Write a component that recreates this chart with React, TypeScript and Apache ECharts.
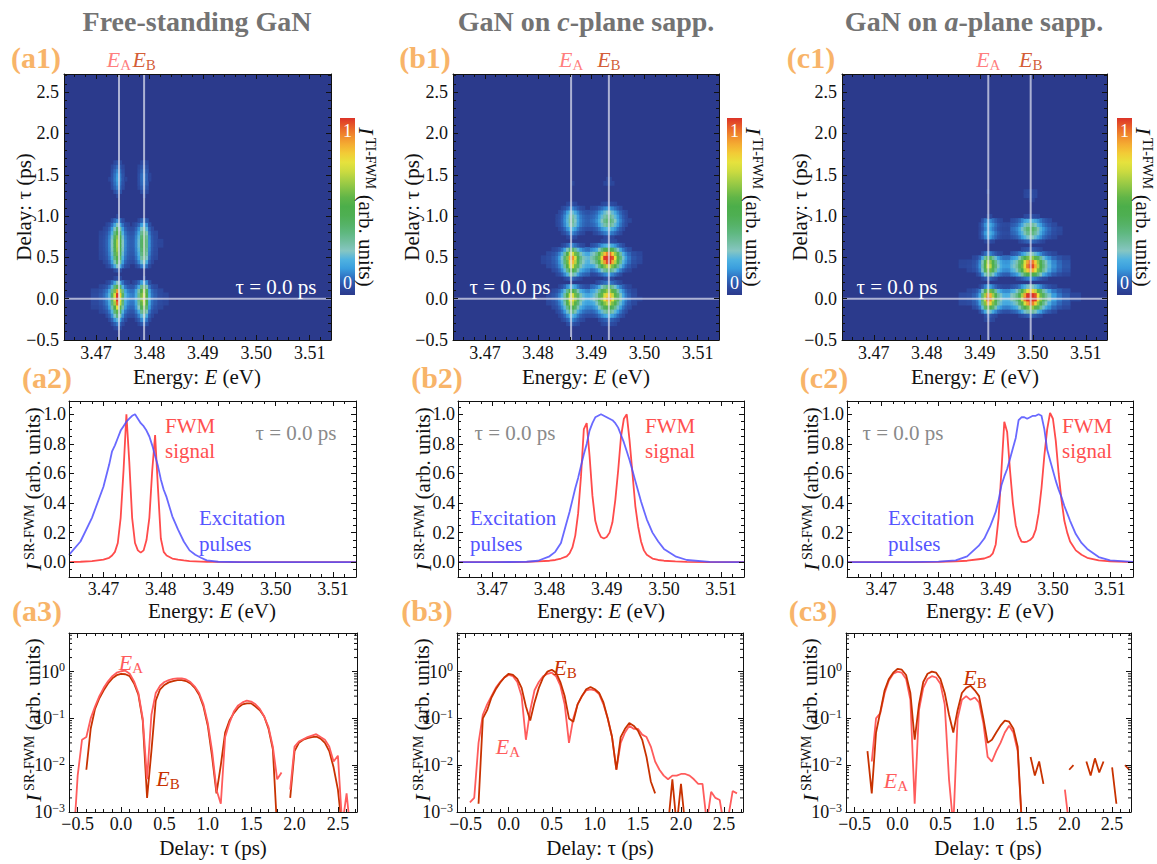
import React, { useEffect, useRef } from "react";
import * as echarts from "echarts";

const FONT = "Liberation Serif, Times New Roman, serif";

// ---------------- axis ranges ----------------
const E_MIN = 3.464;
const E_MAX = 3.514;
const MAP_TAU_MIN = -0.5;
const MAP_TAU_MAX = 2.72;
const SPEC_MIN = -0.1;
const SPEC_MAX = 1.09;
const DELAY_MIN = -0.6;
const DELAY_MAX = 2.72;
const LOG_MIN = 0.001;
const LOG_MAX = 6.7;

// ---------------- texts ----------------
const COLUMN_TITLES = [
  "{b|Free-standing GaN}",
  "{b|GaN on }{bi|c}{b|-plane sapp.}",
  "{b|GaN on }{bi|a}{b|-plane sapp.}",
];
const PANEL_LABELS = [
  ["(a1)", "(b1)", "(c1)"],
  ["(a2)", "(b2)", "(c2)"],
  ["(a3)", "(b3)", "(c3)"],
];
const TAU_NOTE = "τ = 0.0 ps";

// exciton resonance energies (eV) – guide lines of the maps
const EXCITON_A = [3.4743, 3.4862, 3.4916];
const EXCITON_B = [3.479, 3.4933, 3.4996];

// ---------------- spectra at tau = 0 (row 2) ----------------
const ENERGY_A = [3.464, 3.466, 3.468, 3.47, 3.471, 3.4715, 3.472, 3.4725, 3.473, 3.4735, 3.474, 3.4745, 3.475, 3.4755, 3.476, 3.4765, 3.477, 3.4775, 3.478, 3.4785, 3.479, 3.4795, 3.48, 3.4805, 3.481, 3.482, 3.483, 3.484, 3.485, 3.486, 3.487, 3.488, 3.49, 3.494, 3.5, 3.514];
const FWM_A = [0, 0.003, 0.008, 0.018, 0.03, 0.045, 0.07, 0.13, 0.3, 0.62, 1.0, 0.68, 0.3, 0.13, 0.08, 0.065, 0.08, 0.15, 0.3, 0.62, 0.86, 0.5, 0.16, 0.07, 0.045, 0.025, 0.017, 0.012, 0.008, 0.006, 0.004, 0.003, 0.002, 0.001, 0, 0];
const PULSE_A = [0.05, 0.14, 0.3, 0.51, 0.66, 0.75, 0.79, 0.84, 0.89, 0.92, 0.95, 0.97, 0.99, 1.0, 0.97, 0.94, 0.92, 0.89, 0.85, 0.79, 0.72, 0.65, 0.56, 0.49, 0.44, 0.31, 0.22, 0.14, 0.08, 0.05, 0.03, 0.012, 0.003, 0, 0, 0];

const ENERGY_B = [3.464, 3.47, 3.476, 3.478, 3.48, 3.481, 3.482, 3.483, 3.4835, 3.484, 3.4845, 3.485, 3.4855, 3.486, 3.4865, 3.487, 3.4875, 3.488, 3.4885, 3.489, 3.4895, 3.49, 3.4905, 3.491, 3.4915, 3.492, 3.4925, 3.493, 3.4935, 3.494, 3.4945, 3.495, 3.4955, 3.496, 3.4965, 3.497, 3.498, 3.499, 3.5, 3.502, 3.504, 3.508, 3.514];
const FWM_B = [0, 0, 0.002, 0.005, 0.01, 0.015, 0.025, 0.04, 0.06, 0.1, 0.18, 0.33, 0.58, 0.9, 0.94, 0.72, 0.45, 0.28, 0.21, 0.17, 0.16, 0.17, 0.2, 0.27, 0.42, 0.62, 0.85, 0.97, 1.0, 0.82, 0.6, 0.38, 0.24, 0.14, 0.08, 0.05, 0.025, 0.015, 0.01, 0.005, 0.002, 0, 0];
const PULSE_B = [0, 0, 0.003, 0.01, 0.04, 0.07, 0.13, 0.27, 0.34, 0.42, 0.5, 0.57, 0.65, 0.73, 0.8, 0.89, 0.94, 0.98, 0.99, 1.0, 0.99, 0.98, 0.97, 0.96, 0.94, 0.91, 0.86, 0.81, 0.75, 0.69, 0.62, 0.55, 0.48, 0.41, 0.35, 0.29, 0.2, 0.14, 0.09, 0.04, 0.015, 0.002, 0];

const ENERGY_C = [3.464, 3.475, 3.48, 3.483, 3.485, 3.487, 3.488, 3.489, 3.4895, 3.49, 3.4905, 3.491, 3.4915, 3.492, 3.4925, 3.493, 3.4935, 3.494, 3.4945, 3.495, 3.4955, 3.496, 3.4965, 3.497, 3.4975, 3.498, 3.4985, 3.499, 3.4995, 3.5, 3.5005, 3.501, 3.5015, 3.502, 3.5025, 3.503, 3.504, 3.505, 3.506, 3.508, 3.51, 3.514];
const FWM_C = [0, 0, 0.002, 0.005, 0.01, 0.02, 0.025, 0.04, 0.06, 0.12, 0.3, 0.62, 0.95, 0.88, 0.62, 0.4, 0.25, 0.18, 0.14, 0.135, 0.14, 0.15, 0.17, 0.22, 0.33, 0.5, 0.72, 0.9, 1.01, 0.97, 0.82, 0.6, 0.42, 0.28, 0.2, 0.14, 0.08, 0.05, 0.03, 0.012, 0.005, 0.001];
const PULSE_C = [0, 0.001, 0.004, 0.012, 0.04, 0.11, 0.16, 0.24, 0.29, 0.34, 0.42, 0.52, 0.58, 0.63, 0.7, 0.77, 0.84, 0.96, 0.98, 0.98, 0.97, 0.98, 0.99, 0.99, 1.0, 0.99, 0.9, 0.76, 0.69, 0.62, 0.55, 0.49, 0.44, 0.38, 0.33, 0.28, 0.19, 0.13, 0.09, 0.035, 0.012, 0.002];

// ---------------- delay traces (row 3) ----------------
const DELAYS = [
  -0.6, -0.55, -0.5, -0.45, -0.4, -0.35, -0.3, -0.25, -0.2, -0.15,
  -0.1, -0.05, 0, 0.05, 0.1, 0.15, 0.2, 0.25, 0.3, 0.35,
  0.4, 0.45, 0.5, 0.55, 0.6, 0.65, 0.7, 0.75, 0.8, 0.85,
  0.9, 0.95, 1.0, 1.05, 1.1, 1.15, 1.2, 1.25, 1.3, 1.35,
  1.4, 1.45, 1.5, 1.55, 1.6, 1.65, 1.7, 1.75, 1.8, 1.85,
  1.9, 1.95, 2.0, 2.05, 2.1, 2.15, 2.2, 2.25, 2.3, 2.35,
  2.4, 2.45, 2.5, 2.55, 2.6, 2.65, 2.7,
];
const DECAY_A_EA = [
  null, 0.0002, 0.006, 0.035, 0.04, 0.1, 0.18, 0.3, 0.45, 0.62,
  0.8, 0.95, 1.02, 1.05, 0.9, 0.62, 0.35, 0.1, 0.005, 0.12,
  0.35, 0.5, 0.6, 0.66, 0.7, 0.72, 0.72, 0.68, 0.6, 0.48,
  0.35, 0.2, 0.08, 0.02, 0.003, 0.0015, 0.04, 0.08, 0.14, 0.19,
  0.22, 0.24, 0.23, 0.2, 0.16, 0.11, 0.065, 0.025, 0.005, 0.007,
  null, 0.003, 0.025, 0.032, 0.036, 0.04, 0.043, 0.046, 0.04, 0.035,
  0.025, 0.012, 0.016, 0.0005, 0.0025, 0.0003, null,
];
const DECAY_A_EB = [
  null, null, null, null, 0.008, 0.06, 0.16, 0.27, 0.4, 0.56,
  0.72, 0.84, 0.9, 0.88, 0.8, 0.56, 0.32, 0.09, 0.002, 0.02,
  0.24, 0.42, 0.52, 0.59, 0.63, 0.66, 0.66, 0.63, 0.56, 0.45,
  0.32, 0.18, 0.07, 0.015, 0.0025, 0.01, 0.05, 0.09, 0.13, 0.17,
  0.2, 0.21, 0.21, 0.18, 0.15, 0.11, 0.06, 0.022, 0.0004, null,
  null, 0.002, 0.02, 0.03, 0.035, 0.038, 0.04, 0.041, 0.037, 0.03,
  0.02, 0.009, 0.003, 0.0004, null, null, null,
];
const DECAY_B_EA = [
  null, null, null, 0.0016, 0.002, 0.03, 0.12, 0.2, 0.3, 0.45,
  0.6, 0.75, 0.85, 0.8, 0.6, 0.3, 0.035, 0.15, 0.4, 0.6,
  0.8, 0.9, 0.95, 0.8, 0.5, 0.2, 0.03, 0.1, 0.2, 0.3,
  0.4, 0.42, 0.4, 0.33, 0.2, 0.1, 0.04, 0.008, 0.03, 0.05,
  0.07, 0.06, 0.06, 0.045, 0.04, 0.025, 0.012, 0.008, 0.006, 0.005,
  0.006, 0.006, 0.0065, 0.0065, 0.006, 0.005, 0.004, 0.004, 0.0006, 0.0027,
  0.002, 0.0018, 0.0005, 0.0008, 0.0028, 0.0025, null,
];
const DECAY_B_EB = [
  null, null, null, null, null, 0.0015, 0.1, 0.15, 0.28, 0.42,
  0.58, 0.75, 0.9, 0.85, 0.7, 0.45, 0.18, 0.09, 0.22, 0.45,
  0.75, 1.0, 1.1, 0.95, 0.6, 0.3, 0.1, 0.085, 0.2, 0.3,
  0.42, 0.47, 0.42, 0.35, 0.22, 0.1, 0.04, 0.008, 0.04, 0.06,
  0.08, 0.07, 0.055, 0.035, 0.015, 0.0045, 0.0025, null, null, 0.0005,
  0.005, 0.0005, 0.004, 0.0005, null, null, null, null, null, null,
  null, null, null, null, null, null, null,
];
const DECAY_C_EA = [
  null, null, null, null, null, null, 0.012, 0.1, 0.13, 0.35,
  0.65, 0.9, 1.0, 0.95, 0.7, 0.25, 0.0015, 0.15, 0.45, 0.7,
  0.8, 0.75, 0.55, 0.2, 0.005, 0.0005, 0.1, 0.25, 0.3, 0.25,
  0.28, 0.22, 0.08, 0.015, 0.012, 0.02, 0.03, 0.05, 0.07, 0.05,
  0.02, 0.0005, null, null, null, null, null, null, null, null,
  null, 0.003, 0.0005, null, null, null, null, null, null, null,
  null, null, null, null, null, null, null,
];
const DECAY_C_EB = [
  null, null, null, null, null, 0.02, 0.0025, 0.05, 0.14, 0.4,
  0.7, 0.95, 1.15, 1.1, 0.85, 0.35, 0.035, 0.2, 0.6, 0.9,
  1.0, 0.95, 0.7, 0.35, 0.12, 0.05, 0.15, 0.35, 0.45, 0.5,
  0.4, 0.3, 0.1, 0.03, 0.035, 0.05, 0.07, 0.09, 0.085, 0.06,
  0.025, 0.0005, null, 0.015, 0.006, 0.012, 0.004, null, null, null,
  null, null, 0.008, 0.01, null, null, 0.012, 0.006, 0.014, 0.007,
  0.012, null, 0.009, 0.0015, null, 0.01, 0.008,
];

// contrast of the time-integrated map relative to the spectrally resolved cuts
const MAP_DELAY_GAMMA = 1.3;
const MAP_SPECTRAL_GAMMA = 0.8;
const MAP_FLOOR = 0.03;

// minor tick positions of the logarithmic axes
const LOG_MINOR_TICKS = [
  0.002, 0.003, 0.004, 0.005, 0.006, 0.007, 0.008, 0.009,
  0.02, 0.03, 0.04, 0.05, 0.06, 0.07, 0.08, 0.09,
  0.2, 0.3, 0.4, 0.5, 0.6, 0.7, 0.8, 0.9,
  2, 3, 4, 5, 6,
];

// ---------------- colours ----------------
const HEAT_COLORS = [
  "#2b3a8c", "#2d4ea4", "#3072c2", "#3a9ede", "#4fb2e0", "#86c6c2", "#72bea0",
  "#5fb880", "#55b266", "#4eaf52", "#4cae4a", "#60b548", "#84c246", "#a8cf44",
  "#cddb40", "#e6e23d", "#f2cc36", "#f4ad32", "#f08a2d", "#e86029", "#dc3328",
];
const HEAT_BG = "#2b3a8c";
const GUIDE = "rgba(228,230,242,0.7)";
const RED_A = "#ff5c5c";
const RED_B = "#c83200";
const FWM_RED = "#ff4b4b";
const PULSE_BLUE = "#4f4fff";
const ORANGE = "#f8b469";
const GREY_TITLE = "#737373";
const GREY_NOTE = "#8a8a8a";
const INK = "#111";

// ---------------- layout ----------------
const ROWS = [
  { top: 74, height: 266, left: [64, 453, 842], width: [267, 266, 265] },
  { top: 401, height: 176, left: [69, 458, 847], width: [287, 286, 286] },
  { top: 633, height: 179, left: [69, 457, 846], width: [288, 286, 285] },
];

const PANELS = [
  { energy: ENERGY_A, fwm: FWM_A, pulse: PULSE_A, ea: EXCITON_A[0], eb: EXCITON_B[0], decayA: DECAY_A_EA, decayB: DECAY_A_EB },
  { energy: ENERGY_B, fwm: FWM_B, pulse: PULSE_B, ea: EXCITON_A[1], eb: EXCITON_B[1], decayA: DECAY_B_EA, decayB: DECAY_B_EB },
  { energy: ENERGY_C, fwm: FWM_C, pulse: PULSE_C, ea: EXCITON_A[2], eb: EXCITON_B[2], decayA: DECAY_C_EA, decayB: DECAY_C_EB },
];

const TICK_SIZE = 18;

const oneDec = (v: number) => (Math.abs(v) < 1e-9 ? "0.0" : (v < 0 ? "−" : "") + Math.abs(v).toFixed(1));
const twoDec = (v: number) => v.toFixed(2);
const pow10 = (v: number) => {
  const e = Math.round(Math.log10(v));
  return "{b|10}{s|" + (e < 0 ? "−" + -e : String(e)) + "}";
};

const zr = (size: number, fill: string, extra: any = {}) => ({ fontFamily: FONT, fontSize: size, fill, lineHeight: Math.round(size * 1.2), ...extra });
const ec = (size: number, color: string, extra: any = {}) => ({ fontFamily: FONT, fontSize: size, color, lineHeight: Math.round(size * 1.2), ...extra });

// the map is built from the tau = 0 spectrum and the delay traces of each resonance
function mapCells(p: any) {
  const n = p.energy.length;
  const mid = (p.ea + p.eb) / 2;
  const half = (DELAYS[1] - DELAYS[0]) / 2;
  const out: any[] = [];
  for (let i = 0; i < n; i++) {
    const e = p.energy[i];
    const left = i === 0 ? E_MIN : (p.energy[i - 1] + e) / 2;
    const right = i === n - 1 ? E_MAX : (e + p.energy[i + 1]) / 2;
    const trace = e < mid ? p.decayA : p.decayB;
    const spec = Math.pow(p.fwm[i], MAP_SPECTRAL_GAMMA);
    for (let j = 0; j < DELAYS.length; j++) {
      const t = DELAYS[j];
      if (t - half < MAP_TAU_MIN - 1e-9) continue;
      const d = trace[j];
      if (d == null) continue;
      const v = Math.min(1, spec * Math.pow(d, MAP_DELAY_GAMMA));
      if (v < MAP_FLOOR) continue;
      out.push([e, t, v, left, right]);
    }
  }
  return out;
}

function mkAxis(dir: string, gi: number, spec: any, main: boolean) {
  const a: any = {
    type: spec.type || "value",
    gridIndex: gi,
    position: dir === "x" ? (main ? "bottom" : "top") : main ? "left" : "right",
    min: spec.min,
    max: spec.max,
    splitNumber: 5,
    z: 10,
    axisLine: { show: true, onZero: false, lineStyle: { color: INK, width: 1 } },
    axisTick: { show: true, inside: true, length: 5, lineStyle: { color: INK, width: 1 } },
    minorTick: { show: spec.minor > 0, splitNumber: spec.minor || 5, length: 3, lineStyle: { color: INK, width: 1 } },
    splitLine: { show: false },
    minorSplitLine: { show: false },
    axisLabel: main
      ? {
          show: true,
          margin: spec.margin,
          fontFamily: FONT,
          fontSize: TICK_SIZE,
          color: INK,
          formatter: spec.fmt,
          rich: spec.rich,
          showMinLabel: spec.showMin,
          showMaxLabel: false,
        }
      : { show: false },
  };
  if (spec.type === "log") a.logBase = 10;
  return a;
}

const POW_RICH = {
  b: ec(TICK_SIZE, INK, { lineHeight: 21 }),
  s: ec(12, INK, { lineHeight: 11, verticalAlign: "top" }),
};

const AXIS_SPECS = [
  {
    x: { min: E_MIN, max: E_MAX, minor: 5, fmt: twoDec, showMin: false, margin: 4 },
    y: { min: MAP_TAU_MIN, max: MAP_TAU_MAX, minor: 5, fmt: oneDec, showMin: true, margin: 5 },
  },
  {
    x: { min: E_MIN, max: E_MAX, minor: 5, fmt: twoDec, showMin: false, margin: 3 },
    y: { min: SPEC_MIN, max: SPEC_MAX, minor: 4, fmt: oneDec, showMin: false, margin: 3 },
  },
  {
    x: { min: DELAY_MIN, max: DELAY_MAX, minor: 5, fmt: oneDec, showMin: false, margin: 3 },
    y: { type: "log", min: LOG_MIN, max: LOG_MAX, minor: 0, fmt: pow10, rich: POW_RICH, showMin: true, margin: 4 },
  },
];

function gText(x: number, y: number, text: string, rich: any, o: any = {}) {
  return {
    type: "text",
    x,
    y,
    rotation: o.rot || 0,
    silent: true,
    z: 100,
    style: {
      text,
      rich,
      fill: o.fill || INK,
      fontFamily: FONT,
      fontSize: o.size || 21,
      fontWeight: o.weight || "normal",
      lineHeight: o.lh,
      align: o.align || "center",
      verticalAlign: "middle",
      textAlign: o.align || "center",
      textVerticalAlign: "middle",
    },
  };
}

const eRich = (fill: string) => ({
  e: zr(22, fill, { fontStyle: "italic", lineHeight: 26 }),
  s: zr(15, fill, { lineHeight: 15, verticalAlign: "bottom" }),
});
const eRichEc = (color: string) => ({
  e: ec(22, color, { fontStyle: "italic", lineHeight: 26 }),
  s: ec(15, color, { lineHeight: 15, verticalAlign: "bottom" }),
});
const INTENSITY_RICH = {
  i: zr(22, INK, { fontStyle: "italic", lineHeight: 22 }),
  u: zr(14, INK, { lineHeight: 12, verticalAlign: "top" }),
  n: zr(21, INK, { lineHeight: 22 }),
};
const ENERGY_RICH = { n: zr(21, INK, { lineHeight: 24 }), i: zr(21, INK, { fontStyle: "italic", lineHeight: 24 }) };
const PLAIN_RICH = { n: zr(21, INK, { lineHeight: 22 }) };

function buildOption() {
  const grid: any[] = [];
  const xAxis: any[] = [];
  const yAxis: any[] = [];
  const series: any[] = [];

  ROWS.forEach((row, r) => {
    for (let c = 0; c < 3; c++) {
      const gi = r * 3 + c;
      grid.push({
        left: row.left[c],
        top: row.top,
        width: row.width[c],
        height: row.height,
        show: r === 0,
        backgroundColor: r === 0 ? HEAT_BG : "transparent",
        borderWidth: 0,
        borderColor: "transparent",
        containLabel: false,
        outerBoundsMode: "none",
      });
      const spec = AXIS_SPECS[r];
      xAxis.push(mkAxis("x", gi, spec.x, true));
      xAxis.push(mkAxis("x", gi, spec.x, false));
      yAxis.push(mkAxis("y", gi, spec.y, true));
      yAxis.push(mkAxis("y", gi, spec.y, false));
    }
  });

  const half = (DELAYS[1] - DELAYS[0]) / 2;

  // ---- row 1: maps (series 0..2) ----
  PANELS.forEach((p, c) => {
    const gi = c;
    series.push({
      type: "custom",
      xAxisIndex: 2 * gi,
      yAxisIndex: 2 * gi,
      z: 2,
      silent: true,
      clip: true,
      dimensions: ["E", "tau", "I", "E0", "E1"],
      encode: { x: 0, y: 1 },
      data: mapCells(p),
      renderItem: (params: any, api: any) => {
        const t = api.value(1);
        const a = api.coord([api.value(3), t + half]);
        const b = api.coord([api.value(4), t - half]);
        return {
          type: "rect",
          shape: { x: a[0], y: a[1], width: b[0] - a[0] + 0.6, height: b[1] - a[1] + 0.6 },
          style: { fill: api.visual("color") },
        };
      },
    });
  });
  PANELS.forEach((p, c) => {
    const gi = c;
    const base = { type: "line", xAxisIndex: 2 * gi, yAxisIndex: 2 * gi, symbol: "none", silent: true, z: 4, lineStyle: { color: GUIDE, width: 2 } };
    series.push({ ...base, data: [[p.ea, MAP_TAU_MIN], [p.ea, MAP_TAU_MAX]] });
    series.push({ ...base, data: [[p.eb, MAP_TAU_MIN], [p.eb, MAP_TAU_MAX]] });
    series.push({ ...base, data: [[E_MIN, 0], [E_MAX, 0]] });
    series.push({
      type: "scatter",
      xAxisIndex: 2 * gi,
      yAxisIndex: 2 * gi,
      silent: true,
      clip: false,
      symbolSize: 1,
      itemStyle: { color: "rgba(0,0,0,0)" },
      z: 5,
      data: [
        { value: [p.ea, MAP_TAU_MAX], label: { formatter: "{e|E}{s|A}", rich: eRichEc(RED_A) } },
        { value: [p.eb, MAP_TAU_MAX], label: { formatter: "{e|E}{s|B}", rich: eRichEc(RED_B) } },
      ],
      label: { show: true, position: "top", distance: 1 },
    });
  });

  // ---- row 2: spectra ----
  PANELS.forEach((p, c) => {
    const gi = 3 + c;
    series.push({
      type: "line",
      xAxisIndex: 2 * gi,
      yAxisIndex: 2 * gi,
      symbol: "none",
      silent: true,
      z: 3,
      lineStyle: { color: FWM_RED, width: 1.8 },
      data: p.energy.map((e: number, i: number) => [e, p.fwm[i]]),
    });
    series.push({
      type: "line",
      xAxisIndex: 2 * gi,
      yAxisIndex: 2 * gi,
      symbol: "none",
      silent: true,
      z: 4,
      lineStyle: { color: PULSE_BLUE, width: 1.8, opacity: 0.85 },
      data: p.energy.map((e: number, i: number) => [e, p.pulse[i]]),
    });
  });

  // ---- row 3: delay traces ----
  PANELS.forEach((p, c) => {
    const gi = 6 + c;
    const traceData = (arr: any[]) => DELAYS.map((t, i) => [t, arr[i] == null ? "-" : arr[i]]);
    series.push({
      type: "line",
      xAxisIndex: 2 * gi,
      yAxisIndex: 2 * gi,
      symbol: "none",
      silent: true,
      z: c === 0 ? 4 : 3,
      lineStyle: { color: RED_A, width: 1.8 },
      data: traceData(p.decayA),
    });
    series.push({
      type: "line",
      xAxisIndex: 2 * gi,
      yAxisIndex: 2 * gi,
      symbol: "none",
      silent: true,
      z: c === 0 ? 3 : 4,
      lineStyle: { color: RED_B, width: 1.8 },
      data: traceData(p.decayB),
    });
    series.push({
      type: "custom",
      xAxisIndex: 2 * gi,
      yAxisIndex: 2 * gi,
      silent: true,
      clip: false,
      z: 11,
      encode: { x: 0, y: 1 },
      data: LOG_MINOR_TICKS.filter((v) => v < LOG_MAX).map((v) => [DELAY_MIN, v]),
      renderItem: (params: any, api: any) => {
        const v = api.value(1);
        const l = api.coord([DELAY_MIN, v]);
        const r = api.coord([DELAY_MAX, v]);
        return {
          type: "group",
          children: [
            { type: "line", shape: { x1: l[0], y1: l[1], x2: l[0] + 3, y2: l[1] }, style: { stroke: INK, lineWidth: 1 } },
            { type: "line", shape: { x1: r[0] - 3, y1: r[1], x2: r[0], y2: r[1] }, style: { stroke: INK, lineWidth: 1 } },
          ],
        };
      },
    });
  });

  // ---- graphic texts ----
  const g: any[] = [];
  const titleRich = {
    b: zr(28, GREY_TITLE, { fontWeight: "bold", lineHeight: 32 }),
    bi: zr(28, GREY_TITLE, { fontWeight: "bold", fontStyle: "italic", lineHeight: 32 }),
  };
  [197, 586, 974].forEach((x, c) => g.push(gText(x, 21, COLUMN_TITLES[c], titleRich)));

  const labelPos = [
    [[36, 57], [425, 57], [811, 57]],
    [[47, 377], [437, 377], [824, 377]],
    [[37, 610], [427, 610], [813, 610]],
  ];
  labelPos.forEach((row, r) =>
    row.forEach((pos, c) =>
      g.push(gText(pos[0], pos[1], "{p|" + PANEL_LABELS[r][c] + "}", { p: zr(30, ORANGE, { fontWeight: "bold", lineHeight: 32 }) }))
    )
  );

  // axis titles
  [197, 586, 975].forEach((x) => g.push(gText(x, 377, "{n|Energy: }{i|E}{n| (eV)}", ENERGY_RICH)));
  [212, 601, 990].forEach((x) => g.push(gText(x, 611, "{n|Energy: }{i|E}{n| (eV)}", ENERGY_RICH)));
  [213, 600, 988].forEach((x) => g.push(gText(x, 848, "{n|Delay: τ (ps)}", PLAIN_RICH)));
  [24, 412, 800].forEach((x) => g.push(gText(x, 207, "{n|Delay: τ (ps)}", PLAIN_RICH, { rot: Math.PI / 2 })));
  [33, 423, 811].forEach((x) => g.push(gText(x, 489, "{i|I}{u| SR-FWM}{n| (arb. units)}", INTENSITY_RICH, { rot: Math.PI / 2 })));
  [33, 422, 810].forEach((x) => g.push(gText(x, 720, "{i|I}{u| SR-FWM}{n| (arb. units)}", INTENSITY_RICH, { rot: Math.PI / 2 })));

  // colour bars
  const stops = HEAT_COLORS.map((col, i) => ({ offset: i / (HEAT_COLORS.length - 1), color: col }));
  [340, 727, 1117].forEach((x) => {
    g.push({
      type: "rect",
      shape: { x, y: 118, width: 15, height: 177 },
      silent: true,
      z: 90,
      style: { fill: { type: "linear", x: 0, y: 1, x2: 0, y2: 0, colorStops: stops } },
    });
    g.push(gText(x + 7.5, 131, "{w|1}", { w: zr(18, "#fff") }));
    g.push(gText(x + 7.5, 283, "{w|0}", { w: zr(18, "#fff") }));
    g.push(gText(x + 26, 207, "{i|I}{u| TI-FWM}{n| (arb. units)}", INTENSITY_RICH, { rot: -Math.PI / 2 }));
  });

  // notes inside the maps
  [276, 510, 897].forEach((x) => g.push(gText(x, 287, "{w|" + TAU_NOTE + "}", { w: zr(21, "#fff") })));

  // notes in the spectra
  [296, 515, 903].forEach((x) => g.push(gText(x, 433, "{w|" + TAU_NOTE + "}", { w: zr(21, GREY_NOTE) })));
  const fwmRich = { r: zr(21, "#ff5050", { lineHeight: 25 }) };
  const pulseRich = { r: zr(21, "#5555ff", { lineHeight: 26 }) };
  [165, 645, 1062].forEach((x) => g.push(gText(x, 438, "{r|FWM}\n{r|signal}", fwmRich, { align: "left" })));
  [199, 470, 888].forEach((x) => g.push(gText(x, 531, "{r|Excitation}\n{r|pulses}", pulseRich, { align: "left" })));

  // trace labels
  const traceLabels = [
    [131, 662, "A"],
    [168, 778, "B"],
    [565, 667, "B"],
    [508, 746, "A"],
    [975, 677, "B"],
    [896, 780, "A"],
  ];
  traceLabels.forEach((t: any) => g.push(gText(t[0], t[1], "{e|E}{s|" + t[2] + "}", eRich(t[2] === "A" ? RED_A : RED_B))));

  return {
    animation: false,
    backgroundColor: "#fff",
    textStyle: { fontFamily: FONT },
    grid,
    xAxis,
    yAxis,
    visualMap: [
      {
        type: "continuous",
        show: false,
        min: 0,
        max: 1,
        dimension: 2,
        seriesIndex: [0, 1, 2],
        inRange: { color: HEAT_COLORS },
      },
    ],
    series,
    graphic: { elements: g },
  };
}

export default function App() {
  const ref = useRef<HTMLDivElement>(null);
  useEffect(() => {
    const chart = echarts.init(ref.current as HTMLDivElement, null, { renderer: "svg" });
    chart.setOption(buildOption() as any);
    return () => chart.dispose();
  }, []);
  return <div ref={ref} style={{ position: "absolute", left: 0, top: 0, width: 1157, height: 864 }} />;
}
